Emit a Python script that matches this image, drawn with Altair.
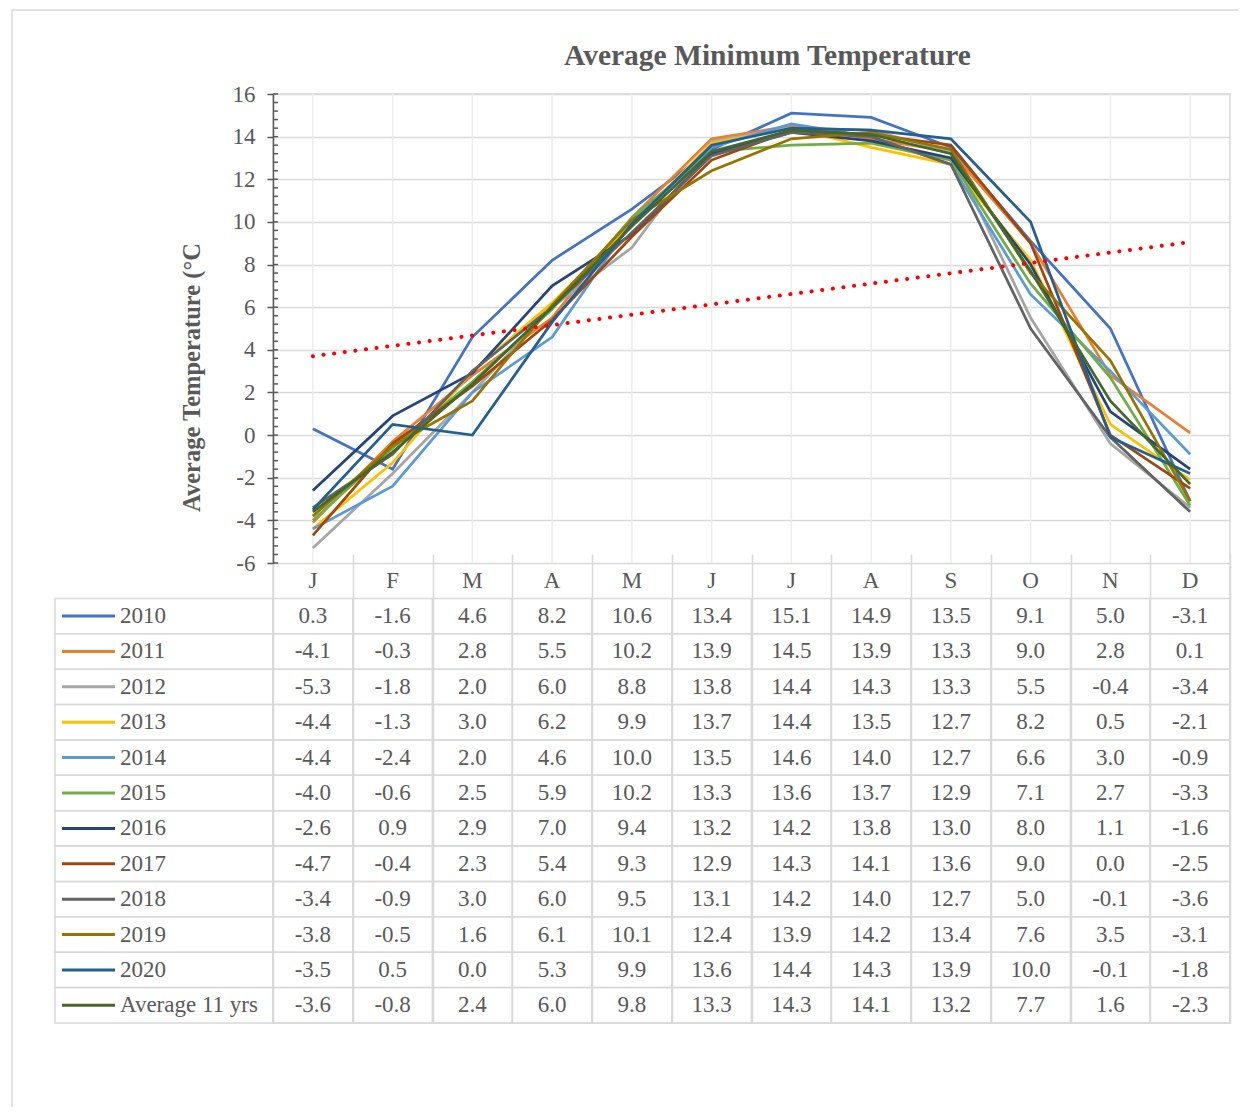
import altair as alt
import pandas as pd

# ---------------- data ----------------
month_keys = ["Jan", "Feb", "Mar", "Apr", "May", "Jun", "Jul", "Aug", "Sep", "Oct", "Nov", "Dec"]
month_labels = ["J", "F", "M", "A", "M", "J", "J", "A", "S", "O", "N", "D"]

series_names = ["2010", "2011", "2012", "2013", "2014", "2015", "2016", "2017",
                "2018", "2019", "2020", "Average 11 yrs"]

s2010 = [0.3, -1.6, 4.6, 8.2, 10.6, 13.4, 15.1, 14.9, 13.5, 9.1, 5.0, -3.1]
s2011 = [-4.1, -0.3, 2.8, 5.5, 10.2, 13.9, 14.5, 13.9, 13.3, 9.0, 2.8, 0.1]
s2012 = [-5.3, -1.8, 2.0, 6.0, 8.8, 13.8, 14.4, 14.3, 13.3, 5.5, -0.4, -3.4]
s2013 = [-4.4, -1.3, 3.0, 6.2, 9.9, 13.7, 14.4, 13.5, 12.7, 8.2, 0.5, -2.1]
s2014 = [-4.4, -2.4, 2.0, 4.6, 10.0, 13.5, 14.6, 14.0, 12.7, 6.6, 3.0, -0.9]
s2015 = [-4.0, -0.6, 2.5, 5.9, 10.2, 13.3, 13.6, 13.7, 12.9, 7.1, 2.7, -3.3]
s2016 = [-2.6, 0.9, 2.9, 7.0, 9.4, 13.2, 14.2, 13.8, 13.0, 8.0, 1.1, -1.6]
s2017 = [-4.7, -0.4, 2.3, 5.4, 9.3, 12.9, 14.3, 14.1, 13.6, 9.0, 0.0, -2.5]
s2018 = [-3.4, -0.9, 3.0, 6.0, 9.5, 13.1, 14.2, 14.0, 12.7, 5.0, -0.1, -3.6]
s2019 = [-3.8, -0.5, 1.6, 6.1, 10.1, 12.4, 13.9, 14.2, 13.4, 7.6, 3.5, -3.1]
s2020 = [-3.5, 0.5, 0.0, 5.3, 9.9, 13.6, 14.4, 14.3, 13.9, 10.0, -0.1, -1.8]
s_avg = [-3.6, -0.8, 2.4, 6.0, 9.8, 13.3, 14.3, 14.1, 13.2, 7.7, 1.6, -2.3]

all_series = [s2010, s2011, s2012, s2013, s2014, s2015, s2016, s2017,
              s2018, s2019, s2020, s_avg]

series_colors = ["#4472C4", "#ED7D31", "#A5A5A5", "#FFC000", "#5B9BD5", "#70AD47",
                 "#264478", "#9E480E", "#636363", "#997300", "#255E91", "#43682B"]

# linear trend line end points
trend_months = ["Jan", "Dec"]
trend_values = [3.7, 9.05]

y_ticks = [-6, -4, -2, 0, 2, 4, 6, 8, 10, 12, 14, 16]
minor_ticks = [round(-6 + 0.4 * i, 1) for i in range(56)]

# ---------------- tables ----------------
rows = []
for name, vals in zip(series_names, all_series):
    for m, v in zip(month_keys, vals):
        rows.append({"series": name, "row": name, "month": m, "value": v,
                     "label": f"{v:.1f}"})
df = pd.DataFrame(rows)

df_hdr = pd.DataFrame({"month": month_keys, "label": month_labels, "row": "_hdr"})
df_names = pd.DataFrame({"series": series_names, "row": series_names})
df_trend = pd.DataFrame({"month": trend_months, "value": trend_values})
df_minor = pd.DataFrame({"value": minor_ticks})
df_months = pd.DataFrame({"month": month_keys})
df_one = pd.DataFrame({"a": [0]})

TXT = "#595959"
GRID = "#d9d9d9"
FONT = "Liberation Serif"

PLOT_H = 469
TOTAL_H = 929
W = 957

x_scale = alt.Scale(domain=month_keys, paddingInner=0, paddingOuter=0)
y_scale = alt.Scale(domain=[-6, 16], range=[PLOT_H, 0], nice=False, zero=False)
row_scale = alt.Scale(domain=["_hdr"] + series_names, range=[PLOT_H, TOTAL_H],
                      paddingInner=0, paddingOuter=0)
color_scale = alt.Scale(domain=series_names, range=series_colors)

x_axis = alt.Axis(labels=False, ticks=False, domain=False, grid=True, gridColor=GRID,
                  gridWidth=1.5, tickBand="extent", title=None)

# ---------------- temperature part ----------------
center_lines = alt.Chart(df_months).mark_rule(color="#ededed", strokeWidth=1.5).encode(
    x=alt.X("month:N", scale=x_scale, sort=month_keys, axis=x_axis, bandPosition=0.5),
    y=alt.datum(-6),
    y2=alt.datum(16),
)

lines = alt.Chart(df).mark_line(strokeWidth=2.75).encode(
    x=alt.X("month:N", scale=x_scale, sort=month_keys, bandPosition=0.5),
    y=alt.Y("value:Q", scale=y_scale,
            axis=alt.Axis(values=y_ticks, labelExpr="'' + datum.value",
                          grid=True, gridColor=GRID, gridWidth=1.5,
                          domainColor=TXT, domainWidth=1.5,
                          tickColor=TXT, tickWidth=1.5, tickSize=6,
                          labelFont=FONT, labelFontSize=23, labelColor=TXT,
                          labelPadding=12,
                          title="Average Temperature (°C", titleFont=FONT,
                          titleFontSize=24.5, titleFontWeight="bold", titleColor=TXT,
                          titleX=-74, titleY=283, titleAngle=-90,
                          titleAlign="center", titleBaseline="alphabetic")),
    color=alt.Color("series:N", scale=color_scale, legend=None),
    detail="series:N",
)

trend = alt.Chart(df_trend).mark_line(color="#FF0000", strokeWidth=4,
                                      strokeDash=[0.1, 10.6], strokeCap="round").encode(
    x=alt.X("month:N", scale=x_scale, sort=month_keys, bandPosition=0.5),
    y=alt.Y("value:Q", scale=y_scale),
)

minor = alt.Chart(df_minor).mark_rule(color=TXT, strokeWidth=1.5).encode(
    y=alt.Y("value:Q", scale=y_scale),
    x=alt.value(0),
    x2=alt.value(5),
)

temp_part = alt.layer(center_lines, lines, trend, minor)

# ---------------- data table part ----------------
cells = alt.Chart(df).mark_rect(fillOpacity=0, stroke=GRID, strokeWidth=1.5).encode(
    x=alt.X("month:N", scale=x_scale, sort=month_keys),
    y=alt.Y("row:N", scale=row_scale, axis=None),
)

name_cells = alt.Chart(df_names).mark_rect(fillOpacity=0, stroke=GRID, strokeWidth=1.5).encode(
    x=alt.value(-218),
    x2=alt.value(0),
    y=alt.Y("row:N", scale=row_scale, axis=None),
)

swatches = alt.Chart(df_names).mark_rule(strokeWidth=3).encode(
    x=alt.value(-211),
    x2=alt.value(-158),
    y=alt.Y("row:N", scale=row_scale, axis=None, bandPosition=0.5),
    color=alt.Color("series:N", scale=color_scale, legend=None),
)

names_text = alt.Chart(df_names).mark_text(font=FONT, fontSize=23, color=TXT,
                                           align="left", baseline="middle").encode(
    x=alt.value(-153),
    y=alt.Y("row:N", scale=row_scale, axis=None),
    text="series:N",
)

values_text = alt.Chart(df).mark_text(font=FONT, fontSize=23, color=TXT,
                                      baseline="middle").encode(
    x=alt.X("month:N", scale=x_scale, sort=month_keys),
    y=alt.Y("row:N", scale=row_scale, axis=None),
    text="label:N",
)

hdr_text = alt.Chart(df_hdr).mark_text(font=FONT, fontSize=23, color=TXT,
                                       baseline="middle").encode(
    x=alt.X("month:N", scale=x_scale, sort=month_keys),
    y=alt.Y("row:N", scale=row_scale, axis=None),
    text="label:N",
)

table_part = alt.layer(cells, name_cells, swatches, names_text, values_text, hdr_text)

frame = alt.Chart(df_one).mark_rect(fillOpacity=0, stroke=GRID, strokeWidth=1.5).encode(
    x=alt.value(-261), x2=alt.value(1000),
    y=alt.value(-84), y2=alt.value(1040),
)

chart = alt.layer(temp_part, table_part, frame).resolve_scale(
    y="independent"
).properties(
    width=W,
    height=TOTAL_H,
    title=alt.TitleParams("Average Minimum Temperature", font=FONT, fontSize=29.5,
                          fontWeight="bold", color=TXT, frame="group",
                          anchor="middle", dx=16, offset=0, dy=85,
                          baseline="alphabetic"),
    autosize=alt.AutoSizeParams(type="none"),
    padding={"left": 265, "top": 86, "right": 8, "bottom": 84},
).configure_view(stroke=GRID, strokeWidth=1.5)

chart.save("out.html", embed_options={"renderer": "svg", "actions": False})
